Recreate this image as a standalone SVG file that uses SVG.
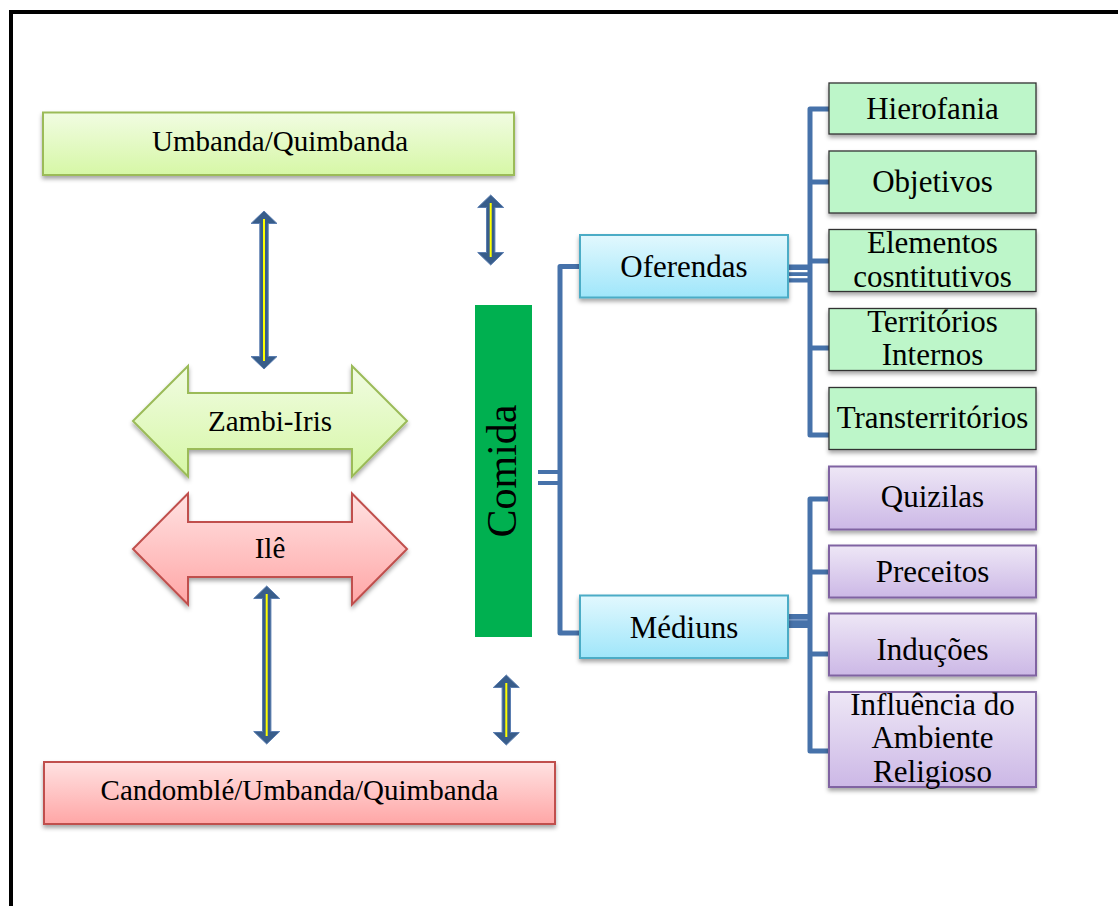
<svg xmlns="http://www.w3.org/2000/svg" width="1118" height="906" viewBox="0 0 1118 906">
  <defs>
    <linearGradient id="gGreen" x1="0" y1="0" x2="0" y2="1">
      <stop offset="0" stop-color="#F1FCE2"/>
      <stop offset="1" stop-color="#D6F7A6"/>
    </linearGradient>
    <linearGradient id="gRed" x1="0" y1="0" x2="0" y2="1">
      <stop offset="0" stop-color="#FFE2E2"/>
      <stop offset="1" stop-color="#FFA6A6"/>
    </linearGradient>
    <linearGradient id="gBlue" x1="0" y1="0" x2="0" y2="1">
      <stop offset="0" stop-color="#E2F8FE"/>
      <stop offset="1" stop-color="#9FE6FA"/>
    </linearGradient>
    <linearGradient id="gPurple" x1="0" y1="0" x2="0" y2="1">
      <stop offset="0" stop-color="#EEE7F6"/>
      <stop offset="1" stop-color="#CCB8E6"/>
    </linearGradient>
    <filter id="shadow" x="-10%" y="-20%" width="120%" height="150%">
      <feDropShadow dx="0" dy="3" stdDeviation="2" flood-color="#000" flood-opacity="0.35"/>
    </filter>
    <!-- vertical double arrow, centred at x=0, spanning y=0..1 scaled per use -->
  </defs>
  <style>
    .t { font-family: "Liberation Serif", "Times New Roman", serif; fill: #000; text-anchor: middle; }
    .s29 { font-size: 29px; }
    .s31 { font-size: 31px; }
    .box-green-light { fill: url(#gGreen); stroke: #9BBB59; stroke-width: 2; filter: url(#shadow); }
    .box-red { fill: url(#gRed); stroke: #C0504D; stroke-width: 2; filter: url(#shadow); }
    .box-blue { fill: url(#gBlue); stroke: #4BACC6; stroke-width: 2; filter: url(#shadow); }
    .box-purple { fill: url(#gPurple); stroke: #8064A2; stroke-width: 2; filter: url(#shadow); }
    .box-mint { fill: #BDF6C9; stroke: #333; stroke-width: 1.3; filter: url(#shadow); }
    .conn { fill: none; stroke: #4672AA; stroke-width: 5; stroke-linejoin: round; }
    .conn-thin { fill: none; stroke: #4672AA; stroke-width: 4; }
    .varrow { fill: #385D8A; stroke: #5A7DB0; stroke-width: 1; }
    .vline { stroke: #FFFF00; stroke-width: 2; }
  </style>

  <!-- outer frame -->
  <rect x="11" y="12" width="1200" height="1000" fill="none" stroke="#000" stroke-width="4"/>

  <!-- connectors -->
  <g id="connectors">
    <!-- Comida to main trunk -->
    <line class="conn-thin" x1="538" y1="472" x2="560" y2="472"/>
    <line class="conn-thin" x1="538" y1="483" x2="560" y2="483"/>
    <path class="conn" d="M580 266.5 H560 V633 H580"/>
    <!-- Oferendas branch -->
    <rect x="788" y="264.5" width="22" height="18" fill="#4672AA"/>
    <rect x="788" y="270" width="20" height="2.2" fill="#fff"/>
    <rect x="788" y="276" width="20" height="2.2" fill="#fff"/>
    <path class="conn" d="M829 109 H810 V435 H829"/>
    <line class="conn" x1="810" y1="182" x2="829" y2="182"/>
    <line class="conn" x1="810" y1="261" x2="829" y2="261"/>
    <line class="conn" x1="810" y1="348" x2="829" y2="348"/>
    <!-- Médiuns branch -->
    <rect x="788" y="614" width="22" height="14" fill="#4672AA"/>
    <rect x="788" y="619" width="20" height="1.6" fill="#7D9CC8"/>
    <path class="conn" d="M829 499 H810 V751 H829"/>
    <line class="conn" x1="810" y1="572" x2="829" y2="572"/>
    <line class="conn" x1="810" y1="654" x2="829" y2="654"/>
    <!-- vertical double arrows -->
    <g id="varrow1">
      <path class="varrow" d="M264 211 L277 223.5 L268.2 223.5 L268.2 356.5 L277 356.5 L264 369 L251 356.5 L259.8 356.5 L259.8 223.5 L251 223.5 Z"/>
      <line class="vline" x1="264" y1="219" x2="264" y2="361"/>
    </g>
    <g id="varrow2">
      <path class="varrow" d="M490.7 195 L503.7 207.5 L494.9 207.5 L494.9 252.5 L503.7 252.5 L490.7 265 L477.7 252.5 L486.5 252.5 L486.5 207.5 L477.7 207.5 Z"/>
      <line class="vline" x1="490.7" y1="203" x2="490.7" y2="257"/>
    </g>
    <g id="varrow3">
      <path class="varrow" d="M266.7 586 L279.7 598.5 L270.9 598.5 L270.9 731.5 L279.7 731.5 L266.7 744 L253.7 731.5 L262.5 731.5 L262.5 598.5 L253.7 598.5 Z"/>
      <line class="vline" x1="266.7" y1="594" x2="266.7" y2="736"/>
    </g>
    <g id="varrow4">
      <path class="varrow" d="M506.3 675 L519.3 687.5 L510.5 687.5 L510.5 732.5 L519.3 732.5 L506.3 745 L493.3 732.5 L502.1 732.5 L502.1 687.5 L493.3 687.5 Z"/>
      <line class="vline" x1="506.3" y1="683" x2="506.3" y2="737"/>
    </g>
  </g>

  <!-- left column -->
  <g id="umbanda-quimbanda">
    <rect class="box-green-light" x="43" y="112.5" width="471" height="62.5"/>
    <text class="t s29" x="280" y="151">Umbanda/Quimbanda</text>
  </g>
  <g id="zambi-iris">
    <polygon class="box-green-light" points="133,421 188,366 188,393 352,393 352,366 407,421 352,476.5 352,449 188,449 188,476.5"/>
    <text class="t s29" x="270" y="431">Zambi-Iris</text>
  </g>
  <g id="ile">
    <polygon class="box-red" points="133,549 188,493.5 188,522 352,522 352,493.5 407,549 352,604.5 352,577 188,577 188,604.5"/>
    <text class="t s29" x="270" y="558">Ilê</text>
  </g>
  <g id="candomble-umbanda-quimbanda">
    <rect class="box-red" x="44" y="762" width="511" height="62"/>
    <text class="t s29" x="299.5" y="800">Candomblé/Umbanda/Quimbanda</text>
  </g>

  <!-- centre -->
  <g id="comida">
    <rect x="475" y="305" width="57" height="332" fill="#00B050"/>
    <text class="t" font-size="42" transform="translate(516,471) rotate(-90)" x="0" y="0">Comida</text>
  </g>

  <!-- second level -->
  <g id="oferendas">
    <rect class="box-blue" x="580" y="235" width="208" height="62.5"/>
    <text class="t s31" x="684" y="277">Oferendas</text>
  </g>
  <g id="mediuns">
    <rect class="box-blue" x="580" y="595.5" width="208" height="62.5"/>
    <text class="t s31" x="684" y="638">Médiuns</text>
  </g>

  <!-- Oferendas leaves -->
  <g id="hierofania">
    <rect class="box-mint" x="829" y="83" width="207" height="51"/>
    <text class="t s31" x="932.5" y="119">Hierofania</text>
  </g>
  <g id="objetivos">
    <rect class="box-mint" x="829" y="151" width="207" height="62"/>
    <text class="t s31" x="932.5" y="192">Objetivos</text>
  </g>
  <g id="elementos-cosntitutivos">
    <rect class="box-mint" x="829" y="229.5" width="207" height="62"/>
    <text class="t s31" x="932.5" y="253">Elementos</text>
    <text class="t s31" x="932.5" y="287">cosntitutivos</text>
  </g>
  <g id="territorios-internos">
    <rect class="box-mint" x="829" y="308.5" width="207" height="62"/>
    <text class="t s31" x="932.5" y="332">Territórios</text>
    <text class="t s31" x="932.5" y="365">Internos</text>
  </g>
  <g id="transterritorios">
    <rect class="box-mint" x="829" y="387.5" width="207" height="62"/>
    <text class="t s31" x="932.5" y="428">Transterritórios</text>
  </g>

  <!-- Médiuns leaves -->
  <g id="quizilas">
    <rect class="box-purple" x="829" y="466.5" width="207" height="63"/>
    <text class="t s31" x="932.5" y="507">Quizilas</text>
  </g>
  <g id="preceitos">
    <rect class="box-purple" x="829" y="545.5" width="207" height="52"/>
    <text class="t s31" x="932.5" y="582">Preceitos</text>
  </g>
  <g id="inducoes">
    <rect class="box-purple" x="829" y="613.5" width="207" height="62"/>
    <text class="t s31" x="932.5" y="660">Induções</text>
  </g>
  <g id="influencia">
    <rect class="box-purple" x="829" y="692" width="207" height="95"/>
    <text class="t s31" x="932.5" y="715">Influência do</text>
    <text class="t s31" x="932.5" y="748">Ambiente</text>
    <text class="t s31" x="932.5" y="782">Religioso</text>
  </g>
</svg>
